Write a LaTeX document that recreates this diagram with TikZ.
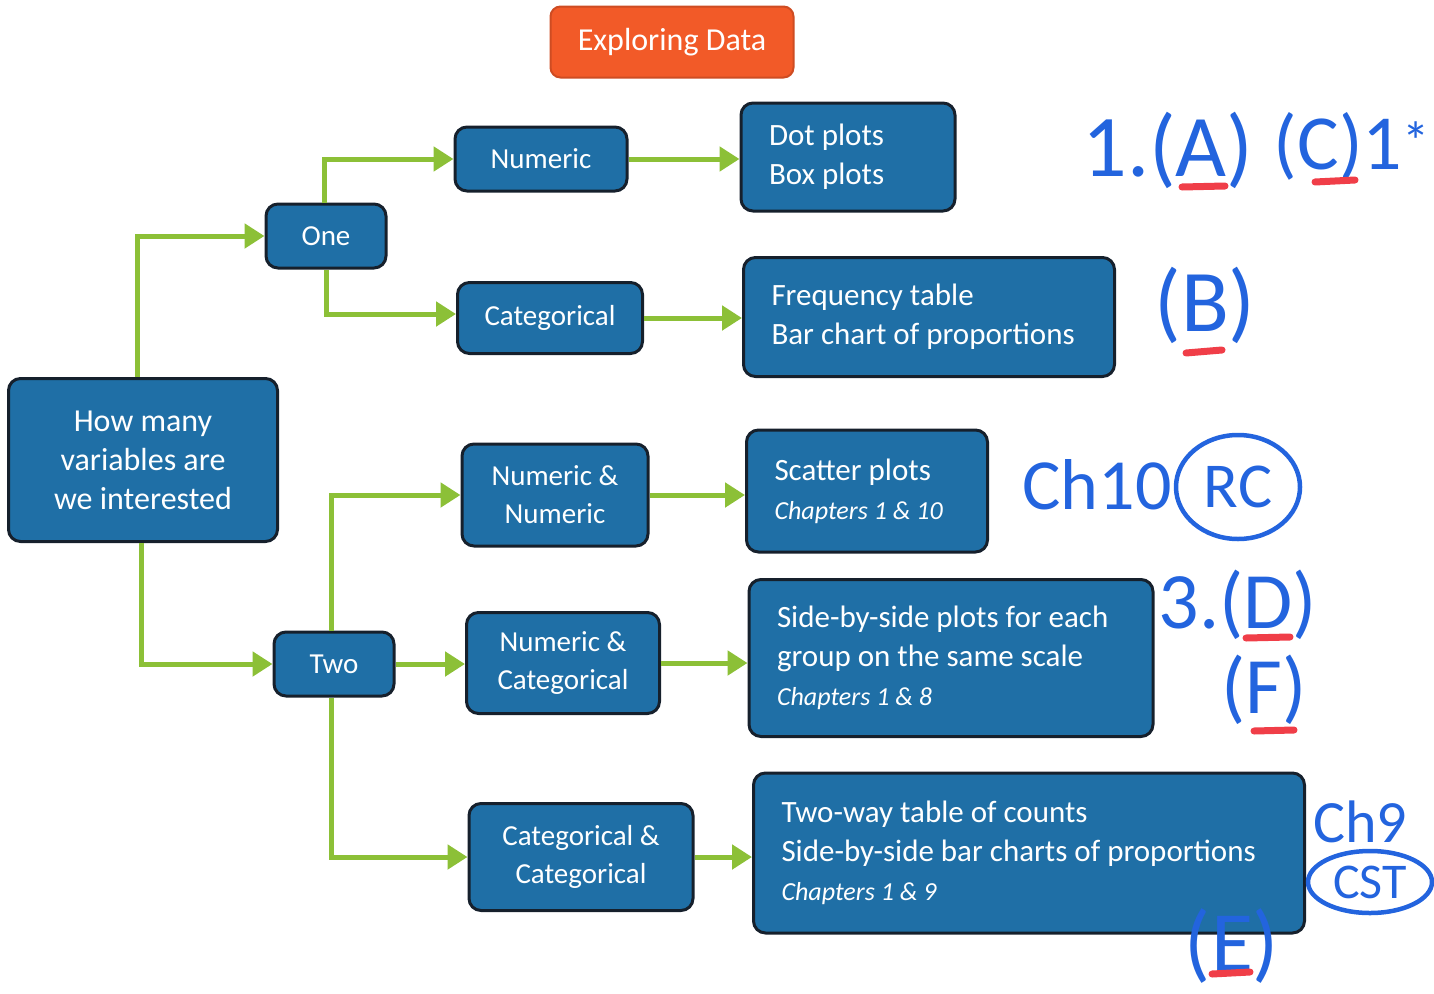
\documentclass[tikz,border=0pt]{standalone}
\usepackage{fontspec}
\setmainfont{Carlito}
\usetikzlibrary{arrows.meta,shapes.geometric}

\definecolor{boxblue}{RGB}{31,111,166}
\definecolor{boxedge}{RGB}{22,32,44}
\definecolor{linkgreen}{RGB}{140,192,55}
\definecolor{titleorange}{RGB}{242,90,40}
\definecolor{penblue}{RGB}{35,100,222}
\definecolor{penred}{RGB}{240,62,72}

\newcommand{\chapfont}{\fontsize{26}{32}\selectfont\itshape}

\tikzset{
  box/.style={draw=boxedge, line width=3pt, fill=boxblue, rounded corners=12pt,
    text=white, font=\fontsize{29}{38}\selectfont, align=center, inner sep=0pt},
  listbox/.style={box, align=flush left, inner xsep=28pt, font=\fontsize{31}{39}\selectfont},
  link/.style={draw=linkgreen, line width=5pt, -{Triangle[length=20pt,width=24pt]}},
  pen/.style={text=penblue, font=\fontsize{88}{88}\selectfont},
  penmark/.style={draw=penred, line width=7pt, line cap=round},
  penring/.style={draw=penblue, line width=4.5pt},
}

\begin{document}
\begin{tikzpicture}[x=1pt,y=-1pt]
\useasboundingbox (0,0) rectangle (1434,993);

%Title
\node [box, draw=titleorange!85!black, line width=2pt, fill=titleorange, rounded corners=10pt,
  font=\fontsize{32}{36}\selectfont, minimum width=243pt, minimum height=71pt] (title) at (672,42) {Exploring Data};

%Question and how many
\node [box, font=\fontsize{32}{39}\selectfont, minimum width=269pt, minimum height=163pt] (howmany) at (143,460) {How many\\variables are\\we interested};
\node [box, minimum width=120pt, minimum height=64pt] (one) at (326,236) {One};
\node [box, minimum width=120pt, minimum height=64pt] (two) at (334,664) {Two};

%Kinds of variables
\node [box, minimum width=172pt, minimum height=64pt] (num) at (541,159) {Numeric};
\node [box, minimum width=185pt, minimum height=71pt] (cat) at (550,318) {Categorical};
\node [box, minimum width=186pt, minimum height=102pt] (numnum) at (555,495) {Numeric \&\\Numeric};
\node [box, minimum width=193pt, minimum height=101pt] (numcat) at (563,663) {Numeric \&\\Categorical};
\node [box, minimum width=224pt, minimum height=107pt] (catcat) at (581,857) {Categorical \&\\Categorical};

%Displays
\node [listbox, text width=158pt, minimum height=108pt] (dot) at (848,157) {Dot plots\\Box plots};
\node [listbox, text width=315pt, minimum height=119pt] (freq) at (929,317) {Frequency table\\Bar chart of proportions};
\node [listbox, text width=185pt, minimum height=122pt] (scat) at (867,491) {Scatter plots\\{\chapfont Chapters 1 \& 10}};
\node [listbox, text width=348pt, minimum height=157pt] (side) at (951,658) {Side-by-side plots for each\\group on the same scale\\{\chapfont Chapters 1 \& 8}};
\node [listbox, text width=495pt, minimum height=160pt] (twoway) at (1029,853) {Two-way table of counts\\Side-by-side bar charts of proportions\\{\chapfont Chapters 1 \& 9}};

%Green connectors
\draw [link] ([xshift=-6pt]howmany.north) |- (one.west);
\draw [link] ([xshift=-2pt]howmany.south) |- (two.west);
\draw [link] ([xshift=-2pt]one.north) |- (num.west);
\draw [link] (one.south) |- ([yshift=4pt]cat.west);
\draw [link] ([xshift=-3pt]two.north) |- (numnum.west);
\draw [link] (two.east) -- (two.east -| numcat.west);
\draw [link] ([xshift=-3pt]two.south) |- (catcat.west);
\draw [link] (num.east) -- (num.east -| dot.west);
\draw [link] (cat.east) -- (cat.east -| freq.west);
\draw [link] (numnum.east) -- (numnum.east -| scat.west);
\draw [link] (numcat.east) -- (numcat.east -| side.west);
\draw [link] (catcat.east) -- (catcat.east -| twoway.west);

%Pen notes
\node [pen] (noteA) at (1168,150) {1.(A)};
\node [pen, font=\fontsize{78}{78}\selectfont] (noteC) at (1352,146) {(C)1\textsuperscript{*}};
\node [pen] (noteB) at (1205,305) {(B)};
\node [pen, font=\fontsize{72}{72}\selectfont] (noteCh10) at (1097,485) {Ch10};
\node [pen, font=\fontsize{64}{64}\selectfont, ellipse, penring, minimum width=124pt, minimum height=104pt, inner sep=0pt] (noteRC) at (1238,487) {RC};
\node [pen, font=\fontsize{80}{80}\selectfont] (noteD) at (1238,605) {3.(D)};
\node [pen, font=\fontsize{80}{80}\selectfont] (noteF) at (1264,690) {(F)};
\node [pen, font=\fontsize{60}{60}\selectfont] (noteCh9) at (1360,822) {Ch9};
\node [pen, font=\fontsize{50}{50}\selectfont, ellipse, penring, minimum width=124pt, minimum height=62pt, inner sep=0pt] (noteCST) at (1370,882) {CST};
\node [pen, font=\fontsize{86}{86}\selectfont] (noteE) at (1232,946) {(E)};

%Red underlines
\draw [penmark] (1182,187) -- (1225,186);
\draw [penmark] (1315,182) -- (1355,180);
\draw [penmark] (1186,353) -- (1222,350);
\draw [penmark] (1246,638) -- (1290,637);
\draw [penmark] (1254,731) -- (1294,730);
\draw [penmark] (1212,974) -- (1250,972);
\end{tikzpicture}
\end{document}
